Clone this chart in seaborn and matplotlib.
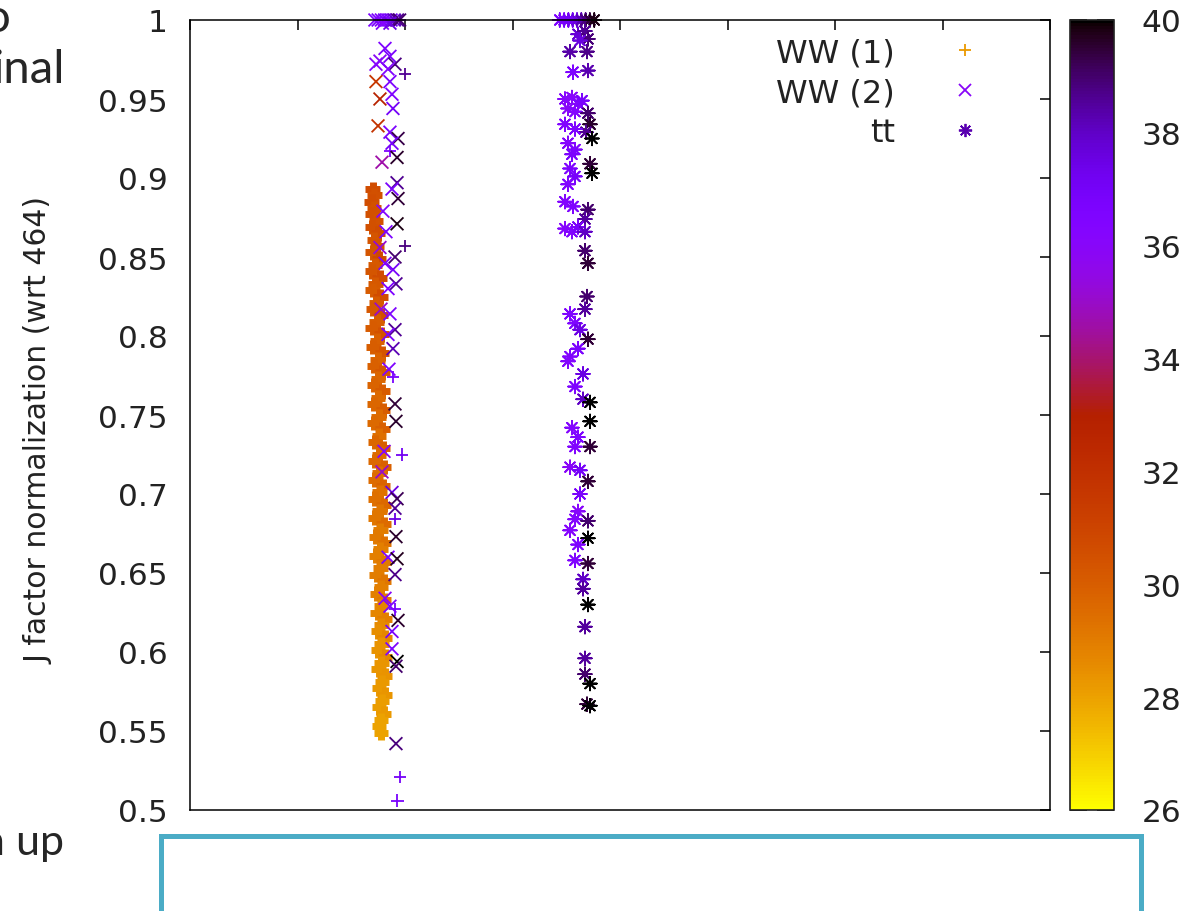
import matplotlib
matplotlib.use("Agg")
import matplotlib as mpl
import matplotlib.pyplot as plt
from matplotlib.lines import Line2D
from matplotlib.patches import Rectangle
import seaborn as sns

# --- WW (1): dense orange column of '+' points ---
ww1_band_y = [0.893, 0.889, 0.885, 0.881, 0.877, 0.873, 0.869, 0.865, 0.861, 0.857,
              0.853, 0.849, 0.845, 0.841, 0.837, 0.833, 0.829, 0.825, 0.821, 0.817,
              0.813, 0.809, 0.805, 0.801, 0.797, 0.793, 0.789, 0.785, 0.781, 0.777,
              0.773, 0.769, 0.765, 0.761, 0.757, 0.753, 0.749, 0.745, 0.741, 0.737,
              0.733, 0.729, 0.725, 0.721, 0.717, 0.713, 0.709, 0.705, 0.701, 0.697,
              0.693, 0.689, 0.685, 0.681, 0.677, 0.673, 0.669, 0.665, 0.661, 0.657,
              0.653, 0.649, 0.645, 0.641, 0.637, 0.633, 0.629, 0.625, 0.621, 0.617,
              0.613, 0.609, 0.605, 0.601, 0.597, 0.593, 0.589, 0.585, 0.581, 0.577,
              0.573, 0.569, 0.565, 0.561, 0.557, 0.553, 0.549]
ww1_band_x = [170, 171.5, 169, 171, 170, 173, 169.5, 175, 171, 174,
              170, 176, 172, 169.5, 176.5, 172.5, 170, 177, 173, 170.5,
              177.5, 173.5, 170, 178, 174, 170.5, 178.5, 174.5, 171, 179,
              175, 171, 179, 175, 171.5, 179.5, 175.5, 171.5, 179, 176,
              172, 179.5, 176, 172, 180, 176, 172.5, 179.5, 176.5, 172.5,
              180, 176.5, 172.5, 180, 177, 173, 180.5, 177, 173, 180,
              177, 173.5, 180.5, 177.5, 174, 180.5, 177.5, 174.5, 181, 178,
              175, 181, 178, 175, 181.5, 178, 175.5, 181, 178.5, 176,
              181, 178.5, 176, 180, 177.5, 176, 177.5]
ww1_band_c = [30.7, 30.5, 30.6, 30.4, 30.5, 30.4, 30.5, 30.7, 30.3, 30.4,
              30.3, 30.8, 30.2, 30.3, 30.7, 30.2, 30.1, 30.6, 30.1, 30.2,
              30.5, 30.0, 30.1, 30.4, 29.9, 30.0, 30.3, 29.8, 29.9, 30.2,
              29.7, 29.8, 30.1, 29.6, 29.7, 30.0, 29.5, 29.6, 29.9, 29.4,
              29.7, 30.0, 29.5, 29.6, 29.9, 29.4, 29.5, 29.8, 29.3, 29.4,
              29.6, 29.2, 29.2, 29.5, 29.0, 29.1, 29.3, 28.9, 28.9, 29.1,
              29.0, 29.0, 29.2, 28.9, 28.9, 29.1, 28.7, 28.7, 28.9, 28.6,
              28.5, 28.7, 28.4, 28.4, 28.6, 28.3, 28.3, 28.4, 28.2, 28.2,
              28.3, 28.1, 28.1, 28.2, 28.0, 28.0, 28.0]

# --- WW (1): scattered purple '+' points ---
ww1_x = [200, 200, 197.2, 188.8, 190.7, 190.7, 186.0, 195.3, 193.0, 195, 190]
ww1_y = [0.966, 0.857, 0.725, 0.774, 0.684, 0.627, 0.917, 0.521, 0.506, 1.0, 1.0]
ww1_c = [38.6, 38.8, 37.2, 36.8, 37.5, 36.9, 36.5, 37.0, 36.8, 38.5, 37.5]

# --- WW (2): 'x' points ---
ww2_x = [172, 175, 178, 181, 184, 187, 190, 193, 195, 179, 186,
         181.4, 176.7, 186.0, 190.7, 173.0, 184.2, 173.0, 186.0, 176.7, 187.9,
         188.8, 174.9, 186.0, 193.5, 187.9, 178.6, 192.6, 192.6, 187.9, 193.5,
         179.5, 192.6, 182.3, 176.7, 190.7, 181.4, 188.8, 191.6, 184.2, 177.7,
         186.0, 190.7, 184.2, 188.8, 185.1, 190.7, 191.6, 180.5, 178.6, 187.9,
         192.6, 190.7, 191.6, 184.2, 192.6, 190.7, 181.4, 186.0, 193.5, 187.9,
         187.9, 192.6, 191.6, 191.6]
ww2_y = [1.0, 1.0, 1.0, 1.0, 1.0, 1.0, 1.0, 1.0, 1.0, 0.998, 0.998,
         0.982, 0.974, 0.977, 0.972, 0.972, 0.969, 0.961, 0.961, 0.950, 0.953,
         0.944, 0.933, 0.929, 0.925, 0.922, 0.910, 0.913, 0.897, 0.893, 0.887,
         0.879, 0.871, 0.866, 0.856, 0.850, 0.846, 0.842, 0.833, 0.830, 0.817,
         0.814, 0.804, 0.801, 0.792, 0.779, 0.757, 0.746, 0.727, 0.714, 0.701,
         0.697, 0.691, 0.673, 0.660, 0.659, 0.649, 0.634, 0.629, 0.620, 0.613,
         0.602, 0.594, 0.591, 0.542]
ww2_c = [36.5, 36.8, 36.3, 37.0, 36.6, 37.2, 38.0, 38.6, 39.0, 36.2, 37.5,
         36.5, 36.0, 36.8, 38.8, 36.2, 36.4, 31.6, 36.6, 32.8, 36.5,
         37.0, 31.8, 36.7, 39.3, 36.9, 34.6, 39.6, 38.6, 36.8, 39.5,
         36.3, 39.8, 36.6, 35.2, 39.0, 36.4, 36.9, 38.6, 36.5, 35.0,
         36.6, 38.6, 36.7, 38.2, 36.5, 39.5, 39.6, 36.2, 35.0, 37.5,
         39.2, 38.6, 39.6, 36.6, 39.7, 38.7, 36.0, 36.6, 39.6, 36.8,
         36.6, 40.0, 39.0, 38.8]

# --- tt: asterisk points ---
tt_x = [344, 348, 352, 356, 360, 364, 368, 372, 376,
        360.9, 367.4, 370.2, 362.8, 353.5, 369.3, 356.3, 370.2, 348.8, 355.3,
        360.9, 351.6, 358.1, 364.7, 370.2, 372.1, 368.4, 374.0, 348.8, 358.1,
        351.6, 358.1, 355.3, 372.1, 374.0, 353.5, 358.1, 351.6, 348.8, 356.3,
        370.2, 367.4, 348.8, 355.3, 360.9, 367.4, 367.4, 370.2, 369.3, 367.4,
        353.5, 358.1, 362.8, 370.2, 360.9, 353.5, 351.6, 365.6, 358.1, 365.6,
        372.1, 372.1, 355.3, 360.9, 372.1, 358.1, 353.5, 362.8, 370.2, 362.8,
        360.9, 358.1, 353.5, 370.2, 370.2, 360.9, 358.1, 370.2, 365.6, 365.6,
        370.2, 367.4, 367.4, 367.4, 372.1, 369.3, 372.1]
tt_y = [1.0, 1.0, 1.0, 1.0, 1.0, 1.0, 1.0, 1.0, 1.0,
        0.991, 0.993, 0.988, 0.987, 0.980, 0.980, 0.967, 0.968, 0.950, 0.951,
        0.947, 0.944, 0.942, 0.949, 0.941, 0.934, 0.929, 0.925, 0.934, 0.931,
        0.922, 0.918, 0.915, 0.909, 0.903, 0.906, 0.901, 0.896, 0.885, 0.882,
        0.880, 0.874, 0.868, 0.866, 0.869, 0.866, 0.854, 0.846, 0.825, 0.817,
        0.814, 0.808, 0.804, 0.798, 0.792, 0.787, 0.784, 0.776, 0.768, 0.760,
        0.758, 0.746, 0.742, 0.736, 0.730, 0.730, 0.717, 0.715, 0.708, 0.700,
        0.689, 0.684, 0.677, 0.683, 0.672, 0.668, 0.658, 0.656, 0.646, 0.640,
        0.630, 0.616, 0.596, 0.586, 0.580, 0.567, 0.566]
tt_c = [36.5, 36.8, 37.0, 37.2, 37.6, 38.2, 38.8, 39.4, 39.8,
        37.8, 38.6, 38.9, 37.6, 38.4, 38.7, 36.6, 38.3, 36.2, 36.1,
        36.4, 36.0, 36.3, 36.8, 39.0, 39.6, 38.6, 40.0, 36.4, 36.6,
        36.2, 36.5, 36.7, 39.5, 40.0, 36.6, 36.9, 36.4, 36.3, 36.5,
        39.0, 38.5, 36.2, 36.4, 36.8, 38.0, 39.0, 39.5, 39.0, 38.5,
        36.5, 36.6, 37.5, 39.5, 36.7, 36.5, 36.3, 37.5, 36.6, 38.0,
        40.0, 40.0, 36.3, 36.6, 39.5, 36.4, 36.0, 37.0, 39.5, 36.8,
        36.1, 36.3, 36.2, 39.0, 40.0, 36.6, 36.5, 39.5, 38.0, 38.5,
        40.0, 38.5, 38.5, 39.0, 40.0, 39.5, 40.0]

y_ticks = [0.5, 0.55, 0.6, 0.65, 0.7, 0.75, 0.8, 0.85, 0.9, 0.95, 1.0]
y_tick_labels = ["0.5", "0.55", "0.6", "0.65", "0.7", "0.75", "0.8", "0.85", "0.9", "0.95", "1"]
x_ticks = [0, 100, 200, 300, 400, 500, 600, 700, 800]
cbar_ticks = [26, 28, 30, 32, 34, 36, 38, 40]
legend_labels = ["WW (1)", "WW (2)", "tt"]
legend_c = [28.2, 36.0, 38.3]

sns.set_theme(style="white")
plt.rcParams["font.family"] = ["DejaVu Sans"]

W, H = 1198, 912
fig = plt.figure(figsize=(W / 100, H / 100), dpi=100)
ax = fig.add_axes([190 / W, (H - 811) / H, 860 / W, 790 / H])
cax = fig.add_axes([1070 / W, (H - 811) / H, 44 / W, 790 / H])

cmap = mpl.colormaps["gnuplot_r"]
norm = mpl.colors.Normalize(26, 40)
star = (8, 2, 0)

sns.scatterplot(x=ww1_band_x, y=ww1_band_y, hue=ww1_band_c, palette=cmap, hue_norm=norm,
                marker="+", s=110, linewidth=5.0, legend=False, ax=ax, clip_on=False)
sns.scatterplot(x=ww1_x, y=ww1_y, hue=ww1_c, palette=cmap, hue_norm=norm,
                marker="+", s=80, linewidth=1.3, legend=False, ax=ax, clip_on=False)
sns.scatterplot(x=ww2_x, y=ww2_y, hue=ww2_c, palette=cmap, hue_norm=norm,
                marker="x", s=85, linewidth=1.3, legend=False, ax=ax, clip_on=False)
sns.scatterplot(x=tt_x, y=tt_y, hue=tt_c, palette=cmap, hue_norm=norm,
                marker=star, s=95, linewidth=1.3, legend=False, ax=ax, clip_on=False)

ax.set_xlim(0, 800)
ax.set_ylim(0.5, 1.0)
ax.set_xticks(x_ticks)
ax.set_yticks(y_ticks)
ax.set_yticklabels(y_tick_labels)
ax.tick_params(direction="in", length=7, width=1.1, top=True, right=True,
               labelsize=22.5, pad=16, colors="black", labelcolor="#222222")
ax.tick_params(axis="x", labelbottom=False)
for sp in ax.spines.values():
    sp.set_color("black")
    sp.set_linewidth(1.1)
ax.set_ylabel("J factor normalization (wrt 464)", fontsize=21.5, color="#222222")
ax.yaxis.set_label_coords(-0.159, 0.482)

handles = [
    Line2D([], [], linestyle="none", marker="+", ms=9, mew=1.3, color=cmap(norm(legend_c[0]))),
    Line2D([], [], linestyle="none", marker="x", ms=9, mew=1.3, color=cmap(norm(legend_c[1]))),
    Line2D([], [], linestyle="none", marker=star, ms=9.5, mew=1.3, color=cmap(norm(legend_c[2]))),
]
ax.legend(handles, legend_labels, loc="upper right", bbox_to_anchor=(0.938, 0.978),
          frameon=False, markerfirst=False, fontsize=23, labelspacing=0.28,
          handlelength=2.0, handletextpad=1.19, borderpad=0, borderaxespad=0,
          labelcolor="#222222")

sm = mpl.cm.ScalarMappable(norm=norm, cmap=cmap)
cb = fig.colorbar(sm, cax=cax)
cb.set_ticks(cbar_ticks)
cax.tick_params(direction="in", left=True, right=True, length=12, width=1.2,
                labelsize=22.5, pad=20, colors="black", labelcolor="#222222")
cb.outline.set_linewidth(1.2)
cb.outline.set_edgecolor("#222222")

# cropped slide text and frame around the chart
fig.text(11 / W, 1 - 32 / H, "o", ha="right", va="baseline", fontsize=34, family="Lato")
fig.text(65 / W, 1 - 83 / H, "inal", ha="right", va="baseline", fontsize=34, family="Lato")
fig.text(64 / W, 1 - 855 / H, "n up", ha="right", va="baseline", fontsize=31, family="Lato")
fig.add_artist(Rectangle((160.5 / W, -0.02), 980 / W, 75.5 / H + 0.02,
                         transform=fig.transFigure, fill=False,
                         edgecolor="#4BACC6", linewidth=3.6))

fig.savefig("out.png", dpi=100)
